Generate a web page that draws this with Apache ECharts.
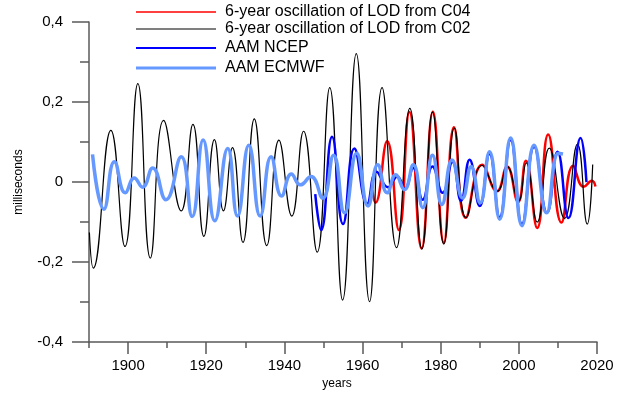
<!DOCTYPE html>
<html>
<head>
<meta charset="utf-8">
<script src="https://cdn.jsdelivr.net/npm/echarts@6/dist/echarts.min.js"></script>
<style>
  html, body { margin: 0; padding: 0; background: #fff; }
  #chart { width: 625px; height: 395px; }
</style>
</head>
<body>
<div id="chart"></div>
<script>
// extrema: [year, milliseconds]
const lodC04 = [
  [1962.5, -0.02], [1963.3, -0.052], [1966.3, 0.102], [1969.3, -0.12], [1972.0, 0.175],
  [1975.1, -0.166], [1978.0, 0.176], [1980.8, -0.152], [1983.4, 0.137], [1986.4, -0.089],
  [1990.6, 0.043], [1994.4, -0.023], [1997.0, 0.039], [1999.8, -0.05], [2001.8, 0.053],
  [2004.7, -0.115], [2007.5, 0.119], [2010.9, -0.101], [2013.9, 0.041], [2016.6, -0.012],
  [2018.7, 0.003], [2019.6, -0.011]
]
const lodC02 = [
  [1890.1, -0.126], [1891.1, -0.215], [1895.6, 0.129], [1899.2, -0.161], [1902.5, 0.246],
  [1905.7, -0.19], [1909.1, 0.154], [1913.6, -0.072], [1916.6, 0.144], [1919.4, -0.136],
  [1922.1, 0.106], [1924.4, -0.072], [1926.7, 0.086], [1929.4, -0.151], [1932.3, 0.158],
  [1935.5, -0.159], [1938.6, 0.105], [1941.9, -0.085], [1944.9, 0.127], [1948.4, -0.175],
  [1951.6, 0.236], [1954.9, -0.295], [1958.4, 0.321], [1961.8, -0.299], [1965.0, 0.236],
  [1968.7, -0.164], [1972.1, 0.184], [1975.2, -0.167], [1977.9, 0.175], [1980.8, -0.155],
  [1983.5, 0.135], [1986.5, -0.089], [1990.6, 0.042], [1994.5, -0.023], [1997.0, 0.039],
  [1999.9, -0.048], [2001.9, 0.048], [2004.7, -0.1], [2007.8, 0.085], [2011.7, -0.091],
  [2015.0, 0.095], [2017.5, -0.105], [2018.9, 0.044]
]
const aamNcep = [
  [1947.9, -0.03], [1949.4, -0.12], [1952.2, 0.113], [1955.0, -0.105], [1957.9, 0.084],
  [1961.2, -0.054], [1963.6, 0.026], [1966.5, -0.013], [1968.9, 0.014], [1970.8, -0.017],
  [1973.0, 0.035], [1975.4, -0.044], [1977.9, 0.039], [1980.5, -0.027], [1983.0, 0.05],
  [1985.2, -0.047], [1987.4, 0.056], [1990.0, -0.06], [1992.5, 0.07], [1995.1, -0.088],
  [1997.9, 0.105], [2000.8, -0.105], [2003.9, 0.088], [2007.2, -0.077], [2009.9, 0.076],
  [2012.7, -0.09], [2015.8, 0.11], [2017.3, 0.0]
]
const aamEcmwf = [
  [1890.9, 0.069], [1893.8, -0.068], [1896.5, 0.051], [1899.3, -0.027], [1901.6, 0.01],
  [1903.7, -0.013], [1906.3, 0.035], [1909.7, -0.044], [1913.6, 0.063], [1916.4, -0.086],
  [1919.2, 0.105], [1922.2, -0.097], [1925.5, 0.084], [1928.0, -0.085], [1930.9, 0.092],
  [1933.8, -0.085], [1936.6, 0.063], [1939.3, -0.035], [1941.8, 0.02], [1944.1, -0.007],
  [1946.8, 0.014], [1949.8, -0.04], [1952.6, 0.067], [1955.4, -0.077], [1958.5, 0.072],
  [1961.4, -0.06], [1963.9, 0.043], [1966.3, -0.027], [1968.5, 0.018], [1970.7, -0.019],
  [1973.0, 0.043], [1975.4, -0.064], [1977.9, 0.067], [1980.3, -0.056], [1982.9, 0.055],
  [1985.6, -0.04], [1987.8, 0.039], [1990.1, -0.052], [1992.5, 0.076], [1995.1, -0.093],
  [1997.9, 0.11], [2000.8, -0.109], [2003.9, 0.092], [2007.1, -0.077], [2010.1, 0.072],
  [2011.3, 0.07]
]
const yearLabels = [1900, 1920, 1940, 1960, 1980, 2000, 2020]
const yearMinor = [1890, 1910, 1930, 1950, 1970, 1990, 2010]
const names = [
  '6-year oscillation of LOD from C04',
  '6-year oscillation of LOD from C02',
  'AAM NCEP',
  'AAM ECMWF'
]
const colors = ['#ff0000', '#000000', '#0000ff', '#6699ff']
const widths = [2.5, 1.2, 2.5, 3.5]
const legendRows = [12, 29, 48, 68]
const legendThick = [1.5, 1, 2, 3]

const font = 'Liberation Sans, Arial, sans-serif'
const axisGrey = '#5a5a5a'

const chart = echarts.init(document.getElementById('chart'))

const seriesData = [lodC04, lodC02, aamNcep, aamEcmwf]

const option = {
  animation: false,
  grid: { left: 89, right: 28, top: 22, bottom: 49, containLabel: false },
  legend: names.map((n, i) => ({
    data: [{ name: n, icon: 'rect' }],
    left: 136,
    top: legendRows[i] - 8,
    itemWidth: 80,
    itemHeight: legendThick[i],
    selectedMode: false,
    padding: 0,
    textStyle: {
      fontFamily: font,
      fontSize: 16,
      color: '#000',
      lineHeight: 16,
      padding: [0, 0, 0, 4]
    }
  })),
  xAxis: [
    {
      type: 'value',
      min: 1890,
      max: 2020,
      position: 'bottom',
      name: 'years',
      nameLocation: 'middle',
      nameGap: 34,
      nameTextStyle: { fontFamily: font, fontSize: 12, color: '#000', padding: [0, 12, 0, 0] },
      axisLine: { onZero: false, lineStyle: { color: axisGrey, width: 1.5 } },
      axisTick: { customValues: yearLabels, length: 12, lineStyle: { color: axisGrey, width: 1.5 } },
      axisLabel: {
        customValues: yearLabels,
        fontFamily: font,
        fontSize: 15,
        color: '#000',
        margin: 16,
        formatter: v => String(Math.round(v))
      },
      splitLine: { show: false }
    },
    {
      type: 'value',
      min: 1890,
      max: 2020,
      position: 'bottom',
      axisLine: { show: false, onZero: false },
      axisTick: { customValues: yearMinor, length: 6, lineStyle: { color: axisGrey, width: 1.5 } },
      axisLabel: { show: false },
      splitLine: { show: false }
    }
  ],
  yAxis: {
    type: 'value',
    min: -0.4,
    max: 0.4,
    interval: 0.2,
    name: 'milliseconds',
    nameLocation: 'middle',
    nameGap: 64,
    nameTextStyle: { fontFamily: font, fontSize: 12, color: '#000' },
    axisLine: { show: true, onZero: false, lineStyle: { color: axisGrey, width: 1.5 } },
    axisTick: { show: true, length: 17, lineStyle: { color: axisGrey, width: 1.5 } },
    minorTick: { show: true, splitNumber: 2, length: 9, lineStyle: { color: axisGrey, width: 1.5 } },
    axisLabel: {
      fontFamily: font,
      fontSize: 15,
      color: '#000',
      margin: 26,
      formatter: v => (Math.abs(v) < 1e-9 ? '0' : v.toFixed(1).replace('.', ','))
    },
    splitLine: { show: false }
  },
  series: seriesData.map((d, i) => ({
    name: names[i],
    type: 'line',
    xAxisIndex: 0,
    data: d,
    showSymbol: false,
    smooth: 0.5,
    itemStyle: { color: colors[i] },
    lineStyle: { color: colors[i], width: widths[i] },
    z: 2 + i
  }))
}

chart.setOption(option)
</script>
</body>
</html>
